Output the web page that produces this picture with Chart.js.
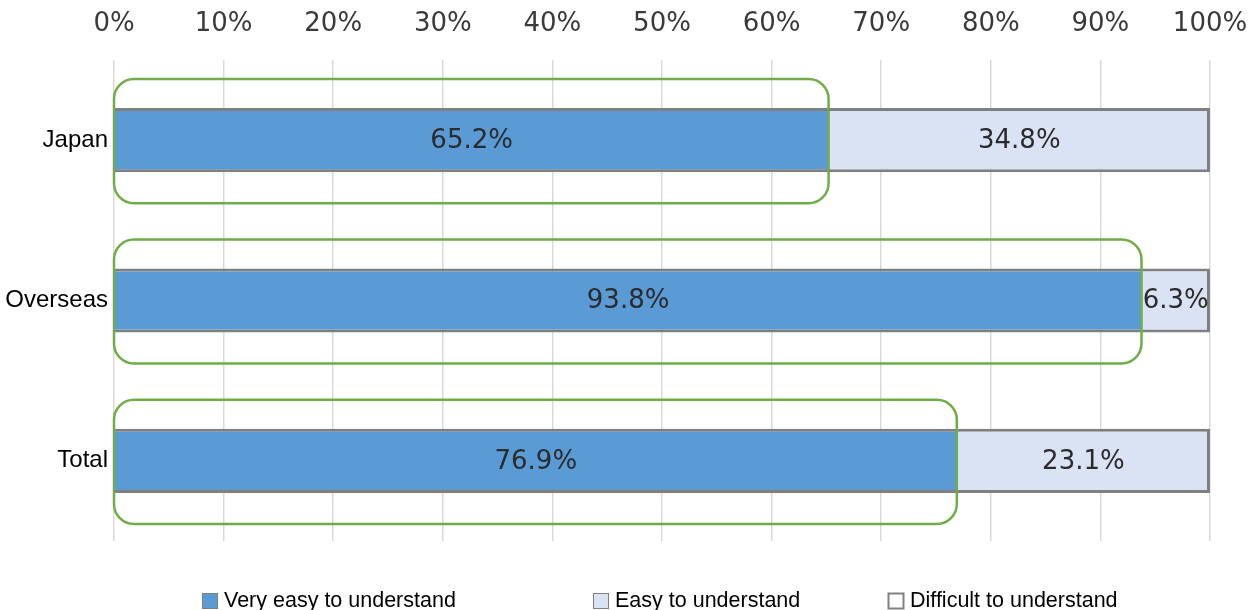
<!DOCTYPE html>
<html>
<head>
<meta charset="utf-8">
<script src="https://cdn.jsdelivr.net/npm/chart.js@4.4.1/dist/chart.umd.min.js"></script>
<style>
  html, body { margin: 0; padding: 0; background: #fff; }
  #wrap { width: 1250px; height: 610px; position: relative; }
</style>
</head>
<body>
<div id="wrap"><canvas id="chart"></canvas></div>
<script>
// data
const regions = ["Japan", "Overseas", "Total"];
const veryEasy = [65.2, 93.75, 76.9];
const easy = [34.8, 6.25, 23.1];
const difficult = [0, 0, 0];
const seriesNames = ["Very easy to understand", "Easy to understand", "Difficult to understand"];

const BLUE = "#5b9bd5";
const LIGHT = "#dae3f3";
const EDGE = "#808080";
const GREEN = "#70ad47";
const legendLeft = [202, 593, 888];

// green rounded frames around the "very easy" segment
const framePlugin = {
  id: "frames",
  afterDatasetsDraw(chart) {
    const meta = chart.getDatasetMeta(0);
    const x0 = chart.scales.x.getPixelForValue(0);
    const ctx = chart.ctx;
    ctx.save();
    ctx.strokeStyle = GREEN;
    ctx.lineWidth = 2.5;
    meta.data.forEach(bar => {
      const half = bar.height / 2 + 30;
      ctx.beginPath();
      ctx.roundRect(x0, bar.y - half + 1, bar.x - x0, half * 2, 20);
      ctx.stroke();
    });
    ctx.restore();
  }
};

// percentage labels in the middle of each segment
const labelPlugin = {
  id: "valueLabels",
  afterDatasetsDraw(chart) {
    const ctx = chart.ctx;
    ctx.save();
    ctx.font = '26px "DejaVu Sans"';
    ctx.fillStyle = "#2b2b2b";
    ctx.textAlign = "center";
    ctx.textBaseline = "middle";
    chart.data.datasets.forEach((ds, i) => {
      chart.getDatasetMeta(i).data.forEach((bar, j) => {
        const v = ds.data[j];
        if (!v) return;
        ctx.fillText(v.toFixed(1) + "%", (bar.x + bar.base) / 2, bar.y + 1);
      });
    });
    ctx.restore();
  }
};

// legend row under the plot
const legendPlugin = {
  id: "bottomLegend",
  afterDraw(chart) {
    const ctx = chart.ctx;
    ctx.save();
    ctx.font = '21.5px "Liberation Sans", Arial';
    ctx.textBaseline = "middle";
    ctx.textAlign = "left";
    chart.data.datasets.forEach((ds, i) => {
      const x = legendLeft[i];
      ctx.fillStyle = ds.backgroundColor;
      ctx.fillRect(x, 593, 16, 16);
      ctx.strokeStyle = EDGE;
      ctx.lineWidth = i === 2 ? 2 : 1;
      ctx.strokeRect(x + 0.5, 593.5, 15, 15);
      ctx.fillStyle = "#000";
      ctx.fillText(ds.label, x + 22, 601);
    });
    ctx.restore();
  }
};

new Chart(document.getElementById("chart"), {
  type: "bar",
  data: {
    labels: regions,
    datasets: [
      {
        label: seriesNames[0],
        data: veryEasy,
        backgroundColor: BLUE,
        borderColor: EDGE,
        borderWidth: { top: 3, bottom: 3, left: 0, right: 0 },
        borderSkipped: false
      },
      {
        label: seriesNames[1],
        data: easy,
        backgroundColor: LIGHT,
        borderColor: EDGE,
        borderWidth: { top: 3, bottom: 3, left: 0, right: 3 },
        borderSkipped: false
      },
      {
        label: seriesNames[2],
        data: difficult,
        backgroundColor: "#ffffff",
        borderColor: EDGE,
        borderWidth: 2,
        borderSkipped: false
      }
    ]
  },
  options: {
    indexAxis: "y",
    responsive: true,
    maintainAspectRatio: false,
    animation: false,
    categoryPercentage: 1,
    barPercentage: 0.4,
    layout: { padding: { top: 0, right: 0, bottom: 69, left: 0 } },
    plugins: {
      legend: { display: false },
      tooltip: { enabled: false }
    },
    scales: {
      x: {
        position: "top",
        stacked: true,
        min: 0,
        max: 100,
        border: { display: false },
        grid: { color: "#d9d9d9", lineWidth: 1.5, drawTicks: false },
        ticks: {
          stepSize: 10,
          padding: 20,
          color: "#3a3a3a",
          font: { family: "DejaVu Sans", size: 26 },
          callback: v => v + "%"
        },
        afterFit(scale) {
          scale.height = 60;
          scale.paddingLeft = 0;
          scale.paddingRight = 40;
        }
      },
      y: {
        stacked: true,
        border: { display: false },
        grid: { display: false, drawTicks: false },
        ticks: {
          padding: 6,
          color: "#000",
          font: { family: "Liberation Sans", size: 24 }
        },
        afterFit(scale) { scale.width = 114; }
      }
    }
  },
  plugins: [framePlugin, labelPlugin, legendPlugin]
});
</script>
</body>
</html>
